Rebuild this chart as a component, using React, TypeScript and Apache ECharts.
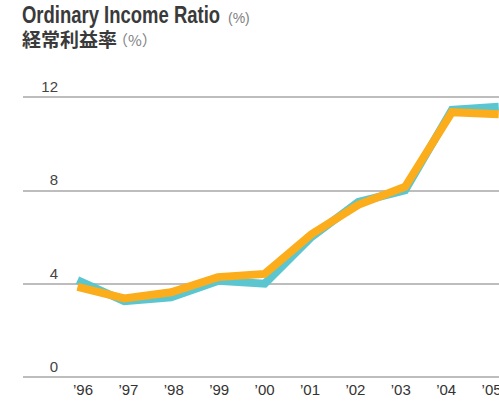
import React, { useEffect, useRef } from "react";
import * as echarts from "echarts";

const categories = ["’96", "’97", "’98", "’99", "’00", "’01", "’02", "’03", "’04", "’05"];
const years = [1996, 1997, 1998, 1999, 2000, 2001, 2002, 2003, 2004, 2005];
const seriesCyan = [4.15, 3.25, 3.42, 4.12, 4.0, 6.0, 7.5, 8.0, 11.45, 11.58];
const seriesOrange = [3.86, 3.37, 3.63, 4.28, 4.42, 6.12, 7.38, 8.15, 11.35, 11.26];
const yTicks = { min: 0, max: 12, interval: 4 };

const SANS = "'Liberation Sans', Arial, sans-serif";
const CJK = "'Noto Sans CJK JP', 'Noto Sans CJK SC', sans-serif";
const CHART_W = 520;

export default function App() {
  const ref = useRef<HTMLDivElement>(null);
  useEffect(() => {
    if (!ref.current) return;
    const chart = echarts.init(ref.current, null, { renderer: "svg" });
    const pairs = (vals: number[]) => years.map((y, i) => [y, vals[i]]);
    chart.setOption({
      animation: false,
      backgroundColor: "#ffffff",
      grid: [
        { left: 23, right: CHART_W - 499, top: 97, bottom: 28 },
        { left: 60.3, right: CHART_W - 514.3, top: 97, bottom: 28 },
      ],
      xAxis: [
        { type: "value", gridIndex: 0, show: false, min: 0, max: 1 },
        {
          type: "category",
          gridIndex: 1,
          data: categories,
          boundaryGap: true,
          axisLine: { show: false },
          axisTick: { show: false },
          axisLabel: {
            color: "#333333",
            fontFamily: SANS,
            fontSize: 15,
            margin: 5,
          },
        },
        {
          type: "value",
          gridIndex: 1,
          show: false,
          min: 1995.6325,
          max: 2005.333,
        },
      ],
      yAxis: [
        {
          type: "value",
          gridIndex: 0,
          min: yTicks.min,
          max: yTicks.max,
          interval: yTicks.interval,
          axisLine: { show: false },
          axisTick: { show: false },
          splitLine: { show: true, lineStyle: { color: "#bdbdbd", width: 2 } },
          axisLabel: {
            inside: true,
            align: "right",
            verticalAlign: "bottom",
            margin: 35,
            padding: [0, 0, 3, 0],
            color: "#444444",
            fontFamily: SANS,
            fontSize: 15,
          },
        },
        { type: "value", gridIndex: 1, show: false, min: yTicks.min, max: yTicks.max },
      ],
      series: [
        {
          type: "line",
          xAxisIndex: 2,
          yAxisIndex: 1,
          data: pairs(seriesCyan),
          symbol: "none",
          lineStyle: { color: "#5bc6d0", width: 8, join: "miter" },
          z: 2,
        },
        {
          type: "line",
          xAxisIndex: 2,
          yAxisIndex: 1,
          data: pairs(seriesOrange),
          symbol: "none",
          lineStyle: { color: "#fbad1c", width: 8, join: "miter" },
          z: 3,
        },
      ],
      graphic: [
        {
          type: "text",
          x: 22,
          y: 3,
          scaleX: 0.77,
          style: {
            text: "Ordinary Income Ratio",
            fontFamily: SANS,
            fontSize: 24,
            fontWeight: "bold",
            fill: "#3a3a3a",
          },
        },
        {
          type: "text",
          x: 228,
          y: 11,
          style: { text: "(%)", fontFamily: SANS, fontSize: 14, fill: "#808080" },
        },
        {
          type: "text",
          x: 22,
          y: 29,
          style: {
            text: "経常利益率",
            fontFamily: CJK,
            fontSize: 19,
            fontWeight: "bold",
            fill: "#3a3a3a",
          },
        },
        {
          type: "text",
          x: 113,
          y: 32,
          style: { text: "（%）", fontFamily: CJK, fontSize: 15, fill: "#808080" },
        },
      ],
    });
    return () => chart.dispose();
  }, []);
  return (
    <div style={{ position: "absolute", left: 0, top: 0, width: 499, height: 405, overflow: "hidden" }}>
      <div ref={ref} style={{ width: CHART_W, height: 405 }} />
    </div>
  );
}
